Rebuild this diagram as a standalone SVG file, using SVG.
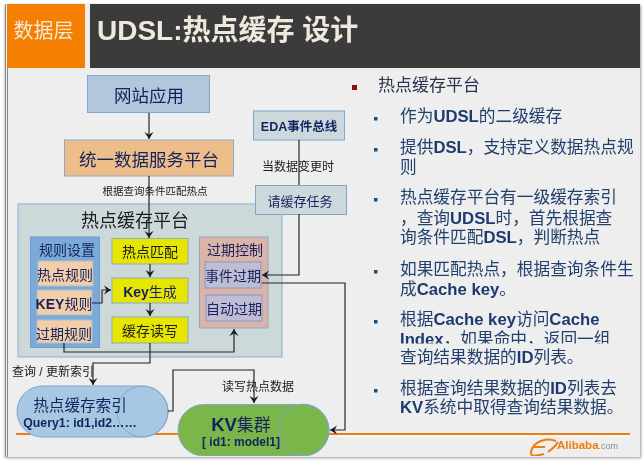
<svg xmlns="http://www.w3.org/2000/svg" width="644" height="462" viewBox="0 0 644 462">
<style>
text{font-family:"Liberation Sans","Noto Sans CJK SC",sans-serif;text-anchor:middle;fill:#1b1b1b}
.b{font-weight:700}
.navy{fill:#14235f}
.li{text-anchor:start;font-size:16.700px;fill:#24406e}
.li tspan{font-weight:700;fill:#1c3a6e}
.rule{fill:#f3cda8;stroke:#a9bdd2}
.core{fill:#e6e600;stroke:#8fa9b5}
.exp{fill:#bfbcd4;stroke:#7f9cc4}
.c{fill:none;stroke:#262626;stroke-width:1.2}
.a{marker-end:url(#v)}
.bul{fill:#1f4e79}
</style>
<defs>
<marker id="v" markerUnits="userSpaceOnUse" markerWidth="12" markerHeight="12" refX="9" refY="6" orient="auto"><path d="M2 1.500L9 6L2 10.500L4.500 6Z" fill="#1e1e1e"/></marker>
<clipPath id="cut"><rect x="395" y="325" width="240" height="18.500"/></clipPath>
<filter id="sh" x="-2%" y="-2%" width="104%" height="104%"><feGaussianBlur stdDeviation="1.500"/></filter>
<filter id="soft" x="0" y="0" width="100%" height="100%"><feGaussianBlur stdDeviation="0.350"/></filter>
</defs>
<rect width="644" height="462" fill="#fff"/>
<rect x="5" y="5" width="636" height="453" fill="#999" filter="url(#sh)"/>
<rect x="5" y="4" width="635" height="453" fill="#eeeeee"/>
<path d="M5.500 4V457M7.500 4V457" stroke="#8a8a8a" stroke-width="1" fill="none"/>
<g filter="url(#soft)">
<g id="header">
<rect x="7" y="4" width="78" height="64" fill="#f57f00"/>
<rect x="90" y="4" width="550" height="64" fill="#3b3a3a"/>
<text x="43.500" y="38" font-size="20" style="fill:#f6e9d8">数据层</text>
<text x="97" y="40" font-size="28" class="b" style="text-anchor:start;fill:#efe9dd">UDSL:热点缓存 设计</text>
</g>
<path d="M16 434H180M329 434H630" stroke="#f07c12" stroke-width="1.800"/>
<path d="M329 436H630" stroke="#fff" stroke-width="1"/>
<g id="platform"><rect x="18" y="204" width="264" height="153" fill="#cdd8d9" stroke="#8fb0cf"/><text x="135" y="227" font-size="18">热点缓存平台</text></g>
<g id="web"><rect x="87.500" y="75.500" width="122" height="37" fill="#b3c6dc" stroke="#7fa6cc"/><text class="navy" x="149" y="102" font-size="17.500">网站应用</text></g>
<g id="udsl"><rect x="64.500" y="140" width="169" height="36" fill="#edbd8a" stroke="#8fa9c4"/><text class="navy" x="149" y="166" font-size="17.500">统一数据服务平台</text></g>
<g id="eda"><rect x="253.500" y="111" width="91" height="29" fill="#cdd8dc" stroke="#7fa6cc"/><text class="navy b" x="299" y="131" font-size="12.500">EDA事件总线</text></g>
<g id="task"><rect x="255.500" y="185.500" width="91" height="29" fill="#cdd8dc" stroke="#7fa6cc"/><text class="navy" x="300" y="206" font-size="13">请缓存任务</text></g>
<g id="rules"><rect x="30.500" y="237" width="69" height="110.500" fill="#7baad8" stroke="#6c9cd0"/><text class="navy" x="67" y="255" font-size="14">规则设置</text></g>
<g id="rule-hot"><rect class="rule" x="38" y="261" width="55" height="25"/><text x="65" y="280" font-size="14" class="navy">热点规则</text></g>
<g id="rule-key"><rect class="rule" x="37" y="290" width="55" height="25"/><text x="64" y="309" font-size="14" class="navy"><tspan class="b">KEY</tspan>规则</text></g>
<g id="rule-exp"><rect class="rule" x="37" y="320" width="55" height="23"/><text x="64" y="339" font-size="14" class="navy">过期规则</text></g>
<g id="match"><rect class="core" x="112" y="238.500" width="76" height="25.500"/><text x="150" y="257" font-size="14">热点匹配</text></g>
<g id="keygen"><rect class="core" x="112" y="278" width="76" height="25"/><text x="150" y="297" font-size="14" class="navy"><tspan class="b">Key</tspan>生成</text></g>
<g id="rw"><rect class="core" x="112" y="317" width="76" height="26"/><text x="150" y="336" font-size="14">缓存读写</text></g>
<g id="expire"><rect x="199.500" y="237" width="68.500" height="91" fill="#dcb3a8" stroke="#8ca9c8"/><text class="navy" x="235" y="255" font-size="14">过期控制</text></g>
<g id="exp-event"><rect class="exp" x="205" y="262" width="56" height="26"/><text x="233" y="281" font-size="14" class="navy">事件过期</text></g>
<g id="exp-auto"><rect class="exp" x="206" y="295" width="56" height="26"/><text x="234" y="314" font-size="14" class="navy">自动过期</text></g>
<g id="index"><rect x="17" y="386" width="151" height="51" rx="25.500" fill="#a6c8e2" stroke="#7fa6cc"/><ellipse cx="142.500" cy="411.500" rx="25.500" ry="25.500" fill="none" stroke="#7fa6cc"/><text class="navy" x="80" y="411" font-size="15.600">热点缓存索引</text><text class="navy b" x="80" y="427" font-size="12.300">Query1: id1,id2……</text></g>
<g id="kv"><rect x="178" y="404.500" width="151" height="51.500" rx="25.700" fill="#7ab648" stroke="#7fa6cc"/><ellipse cx="303.500" cy="430" rx="25.500" ry="25.800" fill="none" stroke="#7fa6cc"/><text class="navy" x="241" y="431" font-size="17"><tspan class="b" font-size="18.500">KV</tspan>集群</text><text class="navy b" x="241" y="446" font-size="12">[ id1: model1]</text></g>
<g id="labels">
<text x="155" y="195" font-size="10.500">根据查询条件匹配热点</text>
<text x="298" y="171" font-size="12">当数据变更时</text>
<text x="53" y="376" font-size="12">查询 / 更新索引</text>
<text x="258" y="391" font-size="12">读写热点数据</text>
</g>
<g id="connectors">
<path class="c a" d="M149 113V139"/>
<path class="c a" d="M149 176V238"/>
<path class="c a" d="M150 264V277"/>
<path class="c a" d="M150 303V316"/>
<path class="c a" d="M92 303H102V290H111"/>
<path class="c a" d="M64 343V352H234V329"/>
<path class="c a" d="M150 343V363H93V385"/>
<path class="c a" d="M168 411H173V370H254V403"/>
<path class="c" d="M299 140V185"/>
<path class="c a" d="M299 214V275H262"/>
<path class="c a" d="M262 283H345V430H330"/>
</g>
<g id="bullets">
<rect x="352" y="85" width="5" height="5" fill="#8f1010"/>
<text x="378" y="91" font-size="17" style="text-anchor:start;fill:#2b3550">热点缓存平台</text>
<rect class="bul" x="374" y="117" width="3.500" height="3.500"/>
<rect class="bul" x="374" y="148" width="3.500" height="3.500"/>
<rect class="bul" x="374" y="198" width="3.500" height="3.500"/>
<rect class="bul" x="374" y="270" width="3.500" height="3.500"/>
<rect class="bul" x="374" y="320" width="3.500" height="3.500"/>
<rect class="bul" x="374" y="389" width="3.500" height="3.500"/>
<text class="li" x="400" y="122">作为<tspan>UDSL</tspan>的二级缓存</text>
<text class="li" x="400" y="153">提供<tspan>DSL</tspan>，支持定义数据热点规</text>
<text class="li" x="400" y="173">则</text>
<text class="li" x="400" y="203">热点缓存平台有一级缓存索引</text>
<text class="li" x="400" y="224">，查询<tspan>UDSL</tspan>时，首先根据查</text>
<text class="li" x="400" y="243">询条件匹配<tspan>DSL</tspan>，判断热点</text>
<text class="li" x="400" y="275">如果匹配热点，根据查询条件生</text>
<text class="li" x="400" y="295">成<tspan>Cache key</tspan>。</text>
<text class="li" x="400" y="325">根据<tspan>Cache key</tspan>访问<tspan>Cache</tspan></text>
<text class="li" x="400" y="345" clip-path="url(#cut)"><tspan>Index</tspan>，如果命中，返回一组</text>
<text class="li" x="400" y="363">查询结果数据的<tspan>ID</tspan>列表。</text>
<text class="li" x="400" y="394">根据查询结果数据的<tspan>ID</tspan>列表去</text>
<text class="li" x="400" y="413"><tspan>KV</tspan>系统中取得查询结果数据。</text>
</g>
<g id="logo">
<path d="M556 441C545 437 533 442 531 452C530 457 536 456 544 454M534 447H545M548 452C552 449 556 446 558 442" fill="none" stroke="#f07c12" stroke-width="2"/>
<text x="557" y="449" font-size="11.500" class="b" style="text-anchor:start;fill:#ef7b10">Alibaba<tspan font-weight="400" font-size="9" style="fill:#8a8a8a">.com</tspan></text>
</g>
</g>
</svg>
